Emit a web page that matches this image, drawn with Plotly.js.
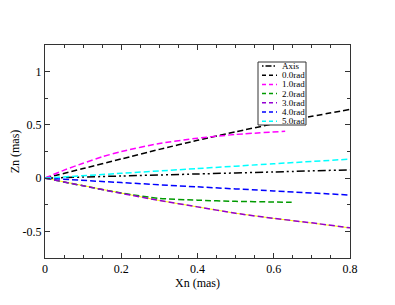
<!DOCTYPE html>
<html>
<head>
<meta charset="utf-8">
<script src="https://cdn.plot.ly/plotly-3.0.1.min.js"></script>
<style>html,body{margin:0;padding:0;background:#fff;}#chart{width:395px;height:305px;}</style>
</head>
<body>
<div id="chart"></div>
<script>
// ---- data ----
var axisX = [0, 0.2, 0.4, 0.6, 0.8];
var axisY = [0, 0.02, 0.039, 0.058, 0.078];

var rad0X = [0, 0.1, 0.2, 0.3, 0.4, 0.5, 0.6, 0.7, 0.8];
var rad0Y = [0, 0.09, 0.18, 0.27, 0.355, 0.435, 0.51, 0.58, 0.645];

var rad1X = [0, 0.05, 0.1, 0.15, 0.2, 0.3, 0.4, 0.5, 0.63];
var rad1Y = [0, 0.075, 0.14, 0.2, 0.25, 0.325, 0.375, 0.41, 0.44];

var rad2X = [0, 0.1, 0.2, 0.3, 0.4, 0.5, 0.6, 0.647];
var rad2Y = [0, -0.072, -0.14, -0.19, -0.207, -0.218, -0.224, -0.227];

var rad3X = [0, 0.1, 0.2, 0.3, 0.4, 0.5, 0.6, 0.7, 0.8];
var rad3Y = [0, -0.072, -0.143, -0.21, -0.27, -0.33, -0.378, -0.42, -0.467];

var rad4X = [0, 0.2, 0.4, 0.6, 0.8];
var rad4Y = [0, -0.042, -0.082, -0.12, -0.159];

var rad5X = [0, 0.2, 0.4, 0.6, 0.8];
var rad5Y = [0, 0.045, 0.09, 0.135, 0.178];

var legendLabels = ["Axis", "0.0rad", "1.0rad", "2.0rad", "3.0rad", "4.0rad", "5.0rad"];
var xTickVals = [0, 0.2, 0.4, 0.6, 0.8];
var xTickText = ["0", "0.2", "0.4", "0.6", "0.8"];
var yTickVals = [-0.5, 0, 0.5, 1];
var yTickText = ["-0.5", "0", "0.5", "1"];

// ---- styles ----
var FONT = "Liberation Serif, Times New Roman, serif";
var colors = ["#000000", "#000000", "#ff00ff", "#009a00", "#9400d3", "#0000ff", "#00ffff"];
var dashes = ["8px,3px,2px,3px,2px,3px", "6px,3px", "6px,3px", "6px,3px", "6px,3px", "6px,3px", "6px,3px"];
var LW = 1.5;

var L = 45, R = 45, T = 45, B = 47, Wd = 395, Ht = 305;
var PW = Wd - L - R, PH = Ht - T - B;
function px2x(p) { return (p - L) / PW; }
function px2y(p) { return (T + PH - p) / PH; }

var series = [
  [axisX, axisY], [rad0X, rad0Y], [rad1X, rad1Y], [rad2X, rad2Y],
  [rad3X, rad3Y], [rad4X, rad4Y], [rad5X, rad5Y]
];

var traces = [];
// yellow underlay beneath the 3.0rad curve (visible in the dash gaps)
traces.push({x: rad3X, y: rad3Y, mode: "lines", line: {color: "#ffff00", width: 1}, showlegend: false, hoverinfo: "skip"});
series.forEach(function (s, i) {
  traces.push({
    x: s[0], y: s[1], mode: "lines", name: legendLabels[i],
    line: {color: colors[i], width: LW, dash: dashes[i], shape: "spline", smoothing: 0.6},
    showlegend: false
  });
});

// ---- custom compact legend ----
var shapes = [];
var annotations = [];
var boxL = 258, boxR = 306, boxT = 62, boxB = 125;
shapes.push({type: "rect", xref: "paper", yref: "paper",
  x0: px2x(boxL), x1: px2x(boxR), y0: px2y(boxB), y1: px2y(boxT),
  line: {color: "#333", width: 1}, fillcolor: "#fff", layer: "above"});
var rowStart = 66, rowGap = 9.2;
legendLabels.forEach(function (lab, i) {
  var yy = rowStart + i * rowGap;
  shapes.push({type: "line", xref: "paper", yref: "paper",
    x0: px2x(262), x1: px2x(277), y0: px2y(yy), y1: px2y(yy),
    line: {color: colors[i], width: LW, dash: i === 0 ? "1.5px,2px,6px,2px" : "4px,3px"}, layer: "above"});
  annotations.push({xref: "paper", yref: "paper", x: px2x(281), y: px2y(yy),
    xanchor: "left", yanchor: "middle", text: lab, showarrow: false, borderpad: 0,
    font: {family: FONT, size: 9, color: "#000"}});
});

var axisCommon = {
  showgrid: false, zeroline: false, showline: true, linecolor: "#333", linewidth: 1,
  mirror: "allticks", ticks: "inside", ticklen: 5, tickwidth: 1, tickcolor: "#333",
  tickfont: {family: FONT, size: 12, color: "#000"}, tickmode: "array"
};

var layout = {
  width: Wd, height: Ht,
  margin: {l: L, r: R, t: T, b: B, pad: 0},
  paper_bgcolor: "#fff", plot_bgcolor: "#fff",
  showlegend: false,
  xaxis: Object.assign({}, axisCommon, {
    range: [0, 0.8], tickvals: xTickVals, ticktext: xTickText,
    minor: {dtick: 0.05, tick0: 0, ticks: "inside", ticklen: 3, tickwidth: 1, tickcolor: "#333", showgrid: false},
    title: {text: "Xn (mas)", font: {family: FONT, size: 12, color: "#000"}, standoff: 2}
  }),
  yaxis: Object.assign({}, axisCommon, {
    range: [-0.75, 1.25], tickvals: yTickVals, ticktext: yTickText,
    minor: {dtick: 0.25, tick0: 0, ticks: "inside", ticklen: 3, tickwidth: 1, tickcolor: "#333", showgrid: false},
    title: {text: "Zn (mas)", font: {family: FONT, size: 12, color: "#000"}, standoff: 0}
  }),
  shapes: shapes,
  annotations: annotations
};

Plotly.newPlot("chart", traces, layout, {staticPlot: true, displayModeBar: false});
</script>
</body>
</html>
